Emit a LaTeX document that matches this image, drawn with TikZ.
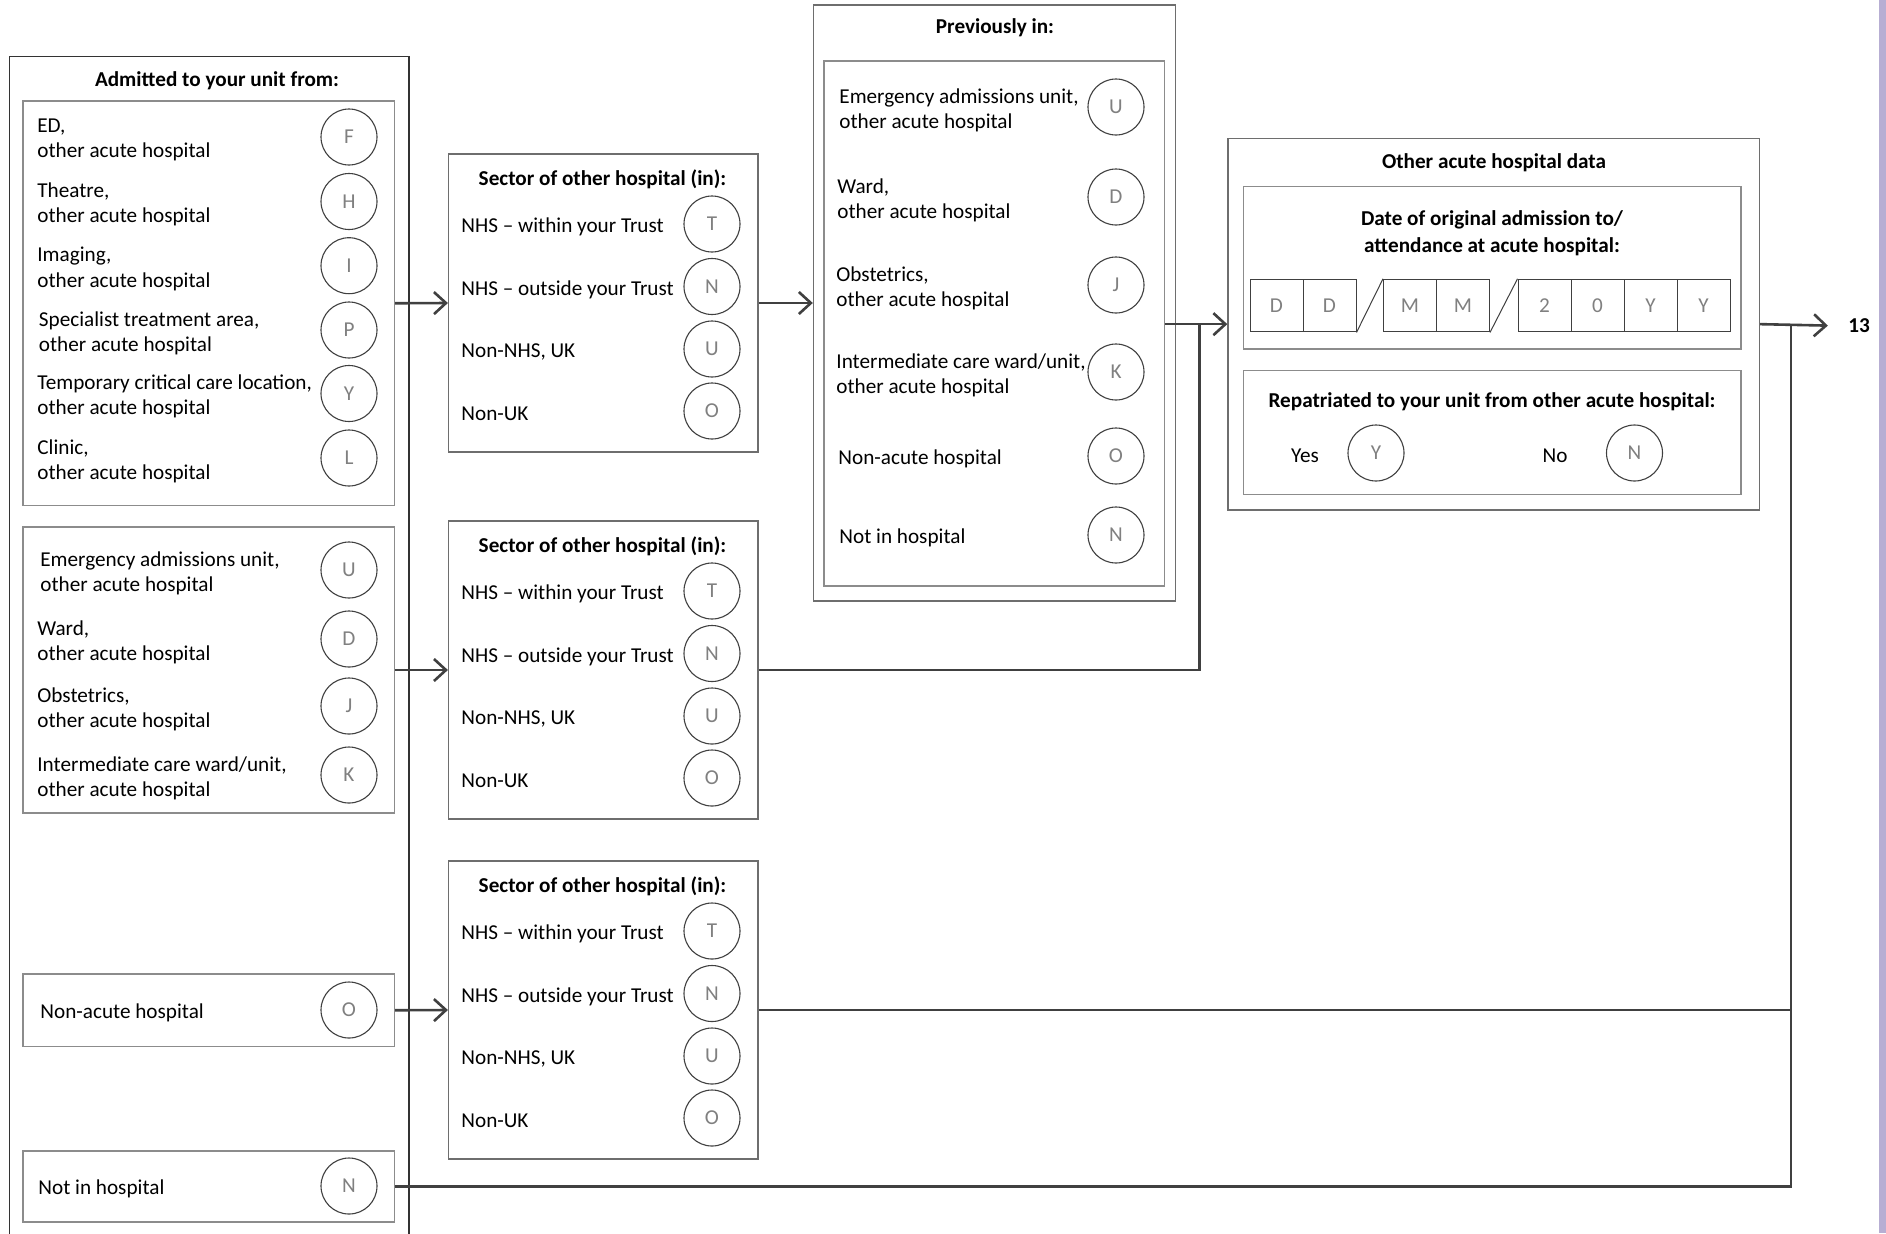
\documentclass[tikz,border=0pt]{standalone}
\usepackage{fontspec}
\setmainfont{Carlito}
\usetikzlibrary{arrows.meta,fit,calc}
\definecolor{conncol}{RGB}{64,64,64}
\definecolor{boxcol}{RGB}{110,110,110}
\definecolor{inboxcol}{RGB}{140,140,140}
\definecolor{lettercol}{RGB}{128,128,128}
\definecolor{stripcol}{RGB}{183,174,211}
\tikzset{
  outerbox/.style={draw=boxcol, line width=0.7pt, inner sep=0pt},
  innerbox/.style={draw=inboxcol, line width=0.7pt, inner sep=0pt},
  lbl/.style={anchor=west, align=left, inner sep=0pt, yshift=-1.6pt, font=\fontsize{10.6}{12.6}\selectfont},
  ttl/.style={align=center, inner sep=0pt, yshift=-0.8pt, font=\fontsize{10.6}{13.5}\selectfont\bfseries},
  opt/.style={circle, draw=conncol, line width=0.55pt, minimum size=28pt, inner sep=0pt, text=lettercol, font=\fontsize{10.6}{12.6}\selectfont},
  cell/.style={draw=conncol, line width=0.5pt, minimum width=26.5pt, minimum height=26.35pt, inner sep=0pt, text=lettercol, font=\fontsize{10.6}{12.6}\selectfont},
  conn/.style={draw=conncol, line width=1.3pt},
  arr/.style={conn, -{Straight Barb[length=6pt,width=11pt]}}
}
\newcommand\myrow[6]{%
  \node[lbl] (#1t) at (#2,#3) {#4};
  \node[opt] (#1c) at (#5,#3) {#6};
}
\newcommand\mysector[2]{%
  \node[outerbox, fit={(448.6,#2) ($(757.8,#2)+(0,298)$)}] (#1) {};
  \node[ttl] (#1h) at ($(602.5,#2)+(0,23.5)$) {Sector of other hospital (in):};
  \node[lbl] (#1at) at ($(461,#2)+(0,70)$) {NHS -- within your Trust};
  \node[opt] (#1ac) at ($(712,#2)+(0,70)$) {T};
  \node[lbl] (#1bt) at ($(461,#2)+(0,132.5)$) {NHS -- outside your Trust};
  \node[opt] (#1bc) at ($(712,#2)+(0,132.5)$) {N};
  \node[lbl] (#1ct) at ($(461,#2)+(0,195)$) {Non-NHS, UK};
  \node[opt] (#1cc) at ($(712,#2)+(0,195)$) {U};
  \node[lbl] (#1dt) at ($(461,#2)+(0,257)$) {Non-UK};
  \node[opt] (#1dc) at ($(712,#2)+(0,257)$) {O};
}
\begin{document}
\begin{tikzpicture}[x=0.5pt,y=-0.5pt]
\useasboundingbox (0,0) rectangle (1886,1233);
\clip (0,0) rectangle (1886,1233);
\fill[white] (0,0) rectangle (1886,1233);
\fill[stripcol] (1879,0) rectangle (1886,1233);

% ---- Admitted to your unit from ----
\node[draw=black!80, line width=0.6pt, inner sep=0pt, fit={(9.6,56.5) (409,1260)}] (adm) {};
\node[ttl] (admh) at (217,79.5) {Admitted to your unit from:};

\node[innerbox, fit={(23,101) (394.5,505.5)}] (ib1) {};
\myrow{f}{37}{137}{ED,\\other acute hospital}{349}{F}
\myrow{h}{37}{201.5}{Theatre,\\other acute hospital}{349}{H}
\myrow{i}{37}{265.7}{Imaging,\\other acute hospital}{349}{I}
\myrow{p}{38.5}{330}{Specialist treatment area,\\other acute hospital}{349}{P}
\myrow{y}{37}{393.5}{Temporary critical care location,\\other acute hospital}{349}{Y}
\myrow{l}{37}{458}{Clinic,\\other acute hospital}{349}{L}

\node[innerbox, fit={(23,527) (394.5,813)}] (ib2) {};
\myrow{u}{40}{570}{Emergency admissions unit,\\other acute hospital}{349}{U}
\myrow{d}{37}{639}{Ward,\\other acute hospital}{349}{D}
\myrow{j}{37}{706}{Obstetrics,\\other acute hospital}{349}{J}
\myrow{k}{37}{775}{Intermediate care ward/unit,\\other acute hospital}{349}{K}

\node[innerbox, fit={(23,974) (394.5,1046.5)}] (ib3) {};
\myrow{o}{40}{1010}{Non-acute hospital}{349}{O}

\node[innerbox, fit={(23,1151) (394.5,1222)}] (ib4) {};
\myrow{n}{38}{1186}{Not in hospital}{349}{N}

% ---- Sector boxes ----
\mysector{seca}{154}
\mysector{secb}{521}
\mysector{secc}{861}

% ---- Previously in ----
\node[outerbox, fit={(813.5,5) (1175.5,601)}] (prev) {};
\node[ttl] (prevh) at (995,26.5) {Previously in:};
\node[innerbox, fit={(824,61) (1164.5,586)}] (previn) {};
\myrow{pu}{839}{107}{Emergency admissions unit,\\other acute hospital}{1116}{U}
\myrow{pd}{837}{197}{Ward,\\other acute hospital}{1116}{D}
\myrow{pj}{836}{285}{Obstetrics,\\other acute hospital}{1116}{J}
\myrow{pk}{836}{372}{Intermediate care ward/unit,\\other acute hospital}{1116}{K}
\myrow{po}{838}{456}{Non-acute hospital}{1116}{O}
\myrow{pn}{839}{535}{Not in hospital}{1116}{N}

% ---- Other acute hospital data ----
\node[outerbox, fit={(1228,138.3) (1759.5,510)}] (other) {};
\node[ttl] (otherh) at (1494,161) {Other acute hospital data};
\node[innerbox, fit={(1243.5,186.5) (1741,349)}] (datebox) {};
\node[ttl] (dateh) at (1492,231.5) {Date of original admission to/\\attendance at acute hospital:};
\node[cell] (dA) at (1276.5,305.6) {D};
\node[cell] (dB) at (1329.5,305.6) {D};
\node[cell] (mA) at (1410,305.6) {M};
\node[cell] (mB) at (1463,305.6) {M};
\node[cell] (yA) at (1544.5,305.6) {2};
\node[cell] (yB) at (1597.5,305.6) {0};
\node[cell] (yC) at (1650.5,305.6) {Y};
\node[cell] (yD) at (1703.5,305.6) {Y};
\draw[draw=conncol, line width=0.5pt] (dB.south east) -- (mA.north west);
\draw[draw=conncol, line width=0.5pt] (mB.south east) -- (yA.north west);

\node[innerbox, fit={(1243.5,370.7) (1741,494.3)}] (repbox) {};
\node[ttl] (reph) at (1492,400) {Repatriated to your unit from other acute hospital:};
\node[lbl, anchor=center] (yest) at (1305,453) {Yes};
\node[opt] (yesc) at (1376,453) {Y};
\node[lbl, anchor=center] (not) at (1555,453) {No};
\node[opt] (noc) at (1634.5,453) {N};

\node[ttl] (n13) at (1859,324) {13};

% ---- connectors ----
\draw[arr] (ib1.east) -- (seca.west);
\draw[arr] (ib2.east) -- (secb.west);
\draw[arr] (ib3.east) -- (secc.west);
\draw[arr] (seca.east) -- (prev.west);
\coordinate (j1) at (1199.5,324.2);
\coordinate (j2) at (1791,324.2);
\draw[arr] (previn.east |- other.west) -- (other.west);
\draw[conn] (secb.east) -| (j1);
\draw[arr] (other.east) -- ([xshift=-10pt]n13.west);
\draw[conn] (secc.east) -| (j2);
\draw[conn] (ib4.east) -| (j2);
\end{tikzpicture}
\end{document}
